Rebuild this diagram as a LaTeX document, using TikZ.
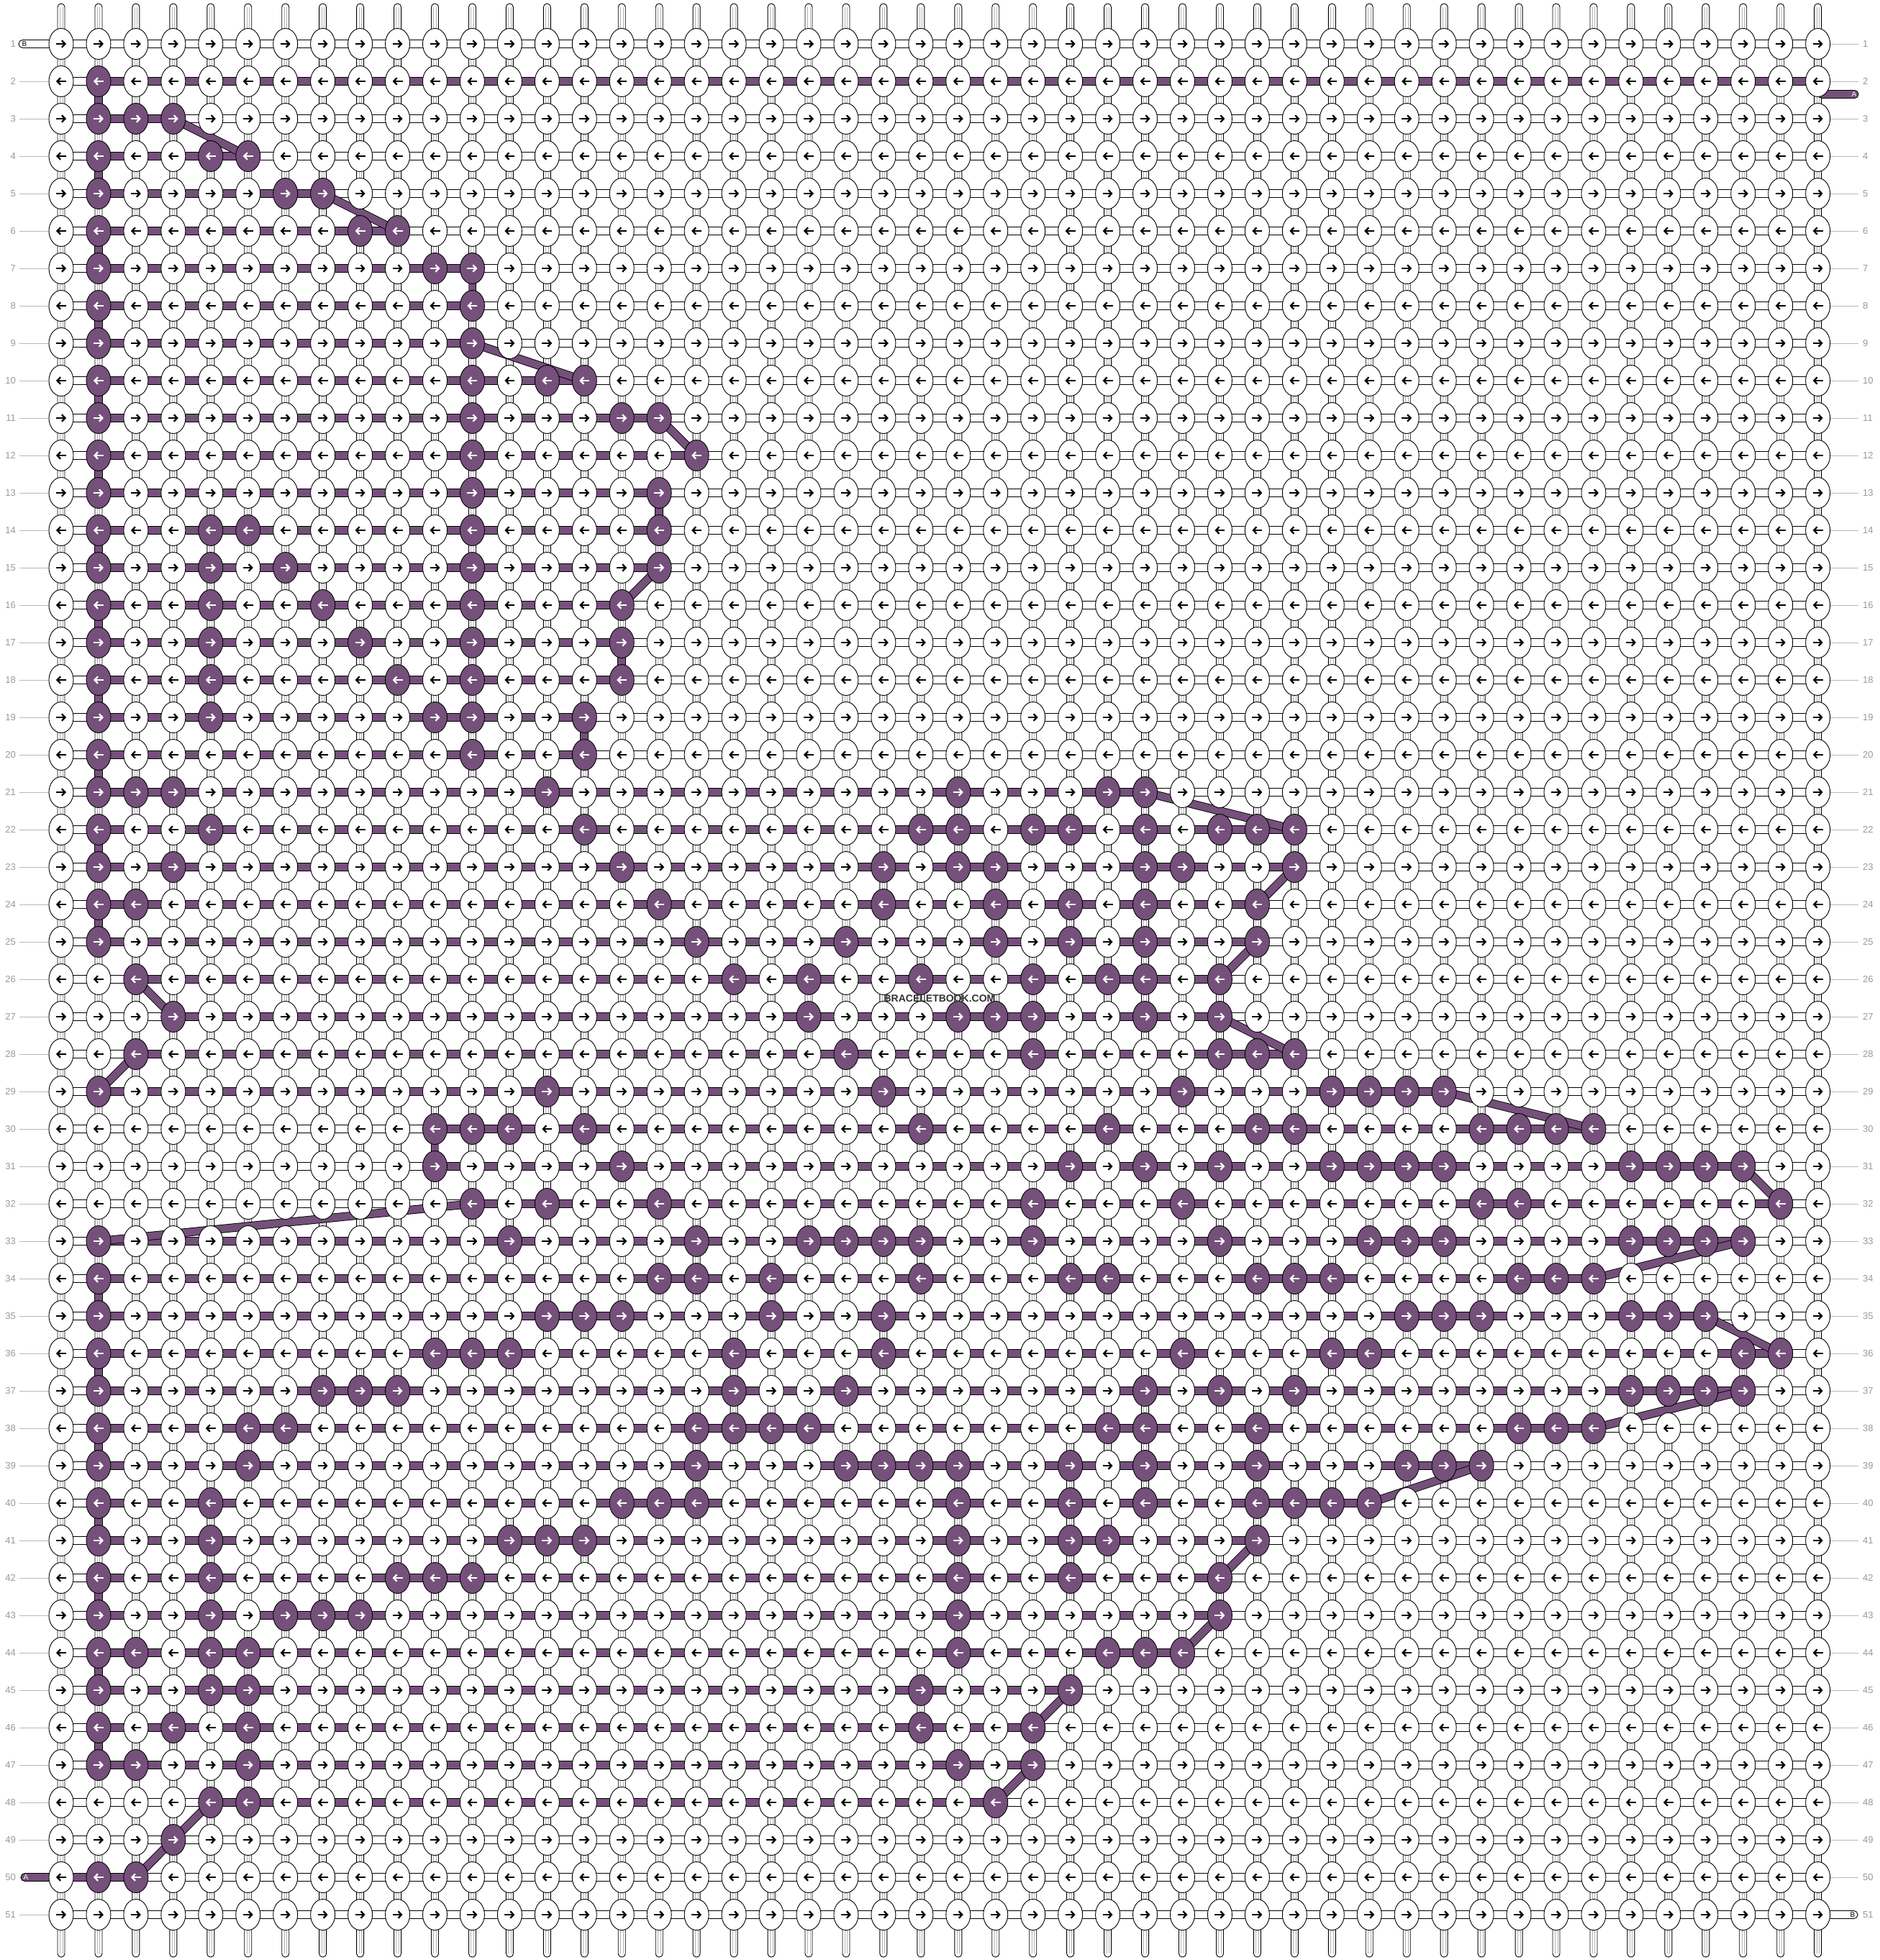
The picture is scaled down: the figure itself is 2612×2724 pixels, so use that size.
\documentclass[tikz,border=0pt]{standalone}
\usepackage{fontspec}
\setmainfont{Liberation Sans}
\usetikzlibrary{arrows.meta}
\definecolor{plum}{HTML}{75507B}
\definecolor{lblgray}{HTML}{9A9A9A}
\definecolor{markgray}{HTML}{333333}
\pgfdeclarelayer{threads}
\pgfsetlayers{threads,main}
\newsavebox\kwr
\newsavebox\kwl
\newsavebox\kpr
\newsavebox\kpl
\newcommand\makeknot[5]{%
    \sbox#1{\begin{pgfpicture}%
        \pgfpathrectangle{\pgfpoint{-25.975pt}{-21.5pt}}{\pgfpoint{51.95pt}{43pt}}%
        \pgfusepath{use as bounding box}%
        \pgfsetlinewidth{0.9pt}%
        \pgfsetfillcolor{#2}\pgfsetstrokecolor{black}%
        \pgfpathellipse{\pgfpointorigin}{\pgfpoint{17pt}{0pt}}{\pgfpoint{0pt}{21.5pt}}%
        \pgfusepath{fill,stroke}%
        \pgfsetstrokecolor{#3}%
        \pgfsetlinewidth{2.3pt}%
        \pgfsetarrowsend{Straight Barb[length=4.5pt,width=9.5pt]}%
        \pgfpathmoveto{\pgfpoint{#4}{0pt}}\pgfpathlineto{\pgfpoint{#5}{0pt}}%
        \pgfusepath{stroke}%
    \end{pgfpicture}}}
\makeknot\kwr{white}{black}{-7pt}{7pt}
\makeknot\kwl{white}{black}{7pt}{-7pt}
\makeknot\kpr{plum}{white}{-7pt}{7pt}
\makeknot\kpl{plum}{white}{7pt}{-7pt}
\begin{document}
\begin{tikzpicture}[
        x=1pt, y=-1pt,
        knotrow/.style={inner sep=0pt, outer sep=0pt, anchor=west},
        strand/.style={draw=black, fill=white, line width=0.9pt, rounded corners=4.9pt},
        fibre/.style={draw=black!30, line width=0.6pt},
        segw/.style={draw=black, fill=white, line width=0.9pt},
        segp/.style={draw=black, fill=plum, line width=0.9pt},
        link/.style={draw=black, line width=0.9pt, double=plum, double distance=10pt},
        rowlbl/.style={text=lblgray, font=\fontsize{13}{13}\selectfont, inner sep=0pt},
        rowline/.style={draw=lblgray!70, line width=0.9pt},
        tag/.style={font=\fontsize{10}{10}\selectfont, inner sep=0pt},
    ]
    \useasboundingbox (0,0) rectangle (2612,2724);

    \foreach \r/\cs in {2/{2}, 3/{2,3,4}, 4/{2,5,6}, 5/{2,7,8}, 6/{2,9,10}, 7/{2,11,12},
        8/{2,12}, 9/{2,12}, 10/{2,12,14,15}, 11/{2,12,16,17}, 12/{2,12,18}, 13/{2,12,17},
        14/{2,5,6,12,17}, 15/{2,5,7,12,17}, 16/{2,5,8,12,16}, 17/{2,5,9,12,16},
        18/{2,5,10,12,16}, 19/{2,5,11,12,15}, 20/{2,12,15},
        21/{2,3,4,14,25,29,30}, 22/{2,5,15,24,25,27,28,30,32,33,34},
        23/{2,4,16,23,25,26,30,31,34}, 24/{2,3,17,23,26,28,30,33},
        25/{2,18,22,26,28,30,33}, 26/{3,19,21,24,27,29,30,32},
        27/{4,21,25,26,27,30,32}, 28/{3,22,27,32,33,34},
        29/{2,14,23,31,35,36,37,38}, 30/{11,12,13,15,24,29,33,34,39,40,41,42},
        31/{11,16,28,30,32,35,36,37,38,43,44,45,46}, 32/{12,14,17,27,31,39,40,47},
        33/{2,13,18,21,22,23,24,27,32,36,37,38,43,44,45,46},
        34/{2,17,18,20,24,28,29,33,34,35,40,41,42},
        35/{2,14,15,16,20,23,37,38,39,43,44,45},
        36/{2,11,12,13,19,23,31,35,36,46,47},
        37/{2,8,9,10,19,22,30,32,34,43,44,45,46},
        38/{2,6,7,18,19,20,21,29,30,33,40,41,42},
        39/{2,6,18,22,23,24,25,28,30,33,37,38,39},
        40/{2,5,16,17,18,25,28,30,33,34,35,36},
        41/{2,5,13,14,15,25,28,29,33}, 42/{2,5,10,11,12,25,28,32},
        43/{2,5,7,8,9,25,32}, 44/{2,3,5,6,25,29,30,31}, 45/{2,5,6,24,28},
        46/{2,4,6,24,27}, 47/{2,3,6,25,27}, 48/{5,6,26}, 49/{4}, 50/{2,3}}{
        \foreach \c in \cs {\expandafter\gdef\csname pk-\r-\c\endcsname{}}
    }

    \foreach \r in {1,...,51}{
        \ifodd\r \let\kw\kwr \let\kp\kpr \else \let\kw\kwl \let\kp\kpl \fi
        \node[knotrow] (row\r) at (59.025, {61+52*(\r-1)}) {\foreach \c in {1,...,48}{\ifcsname pk-\r-\c\endcsname\usebox\kp\else\usebox\kw\fi}};
        \node[rowlbl, anchor=east] (ll\r) at (22, {61+52*(\r-1)}) {\r};
        \node[rowlbl, anchor=west] (rl\r) at (2589, {61+52*(\r-1)}) {\r};
    }

    \node[font=\bfseries\fontsize{14}{14}\selectfont, text=markgray, inner sep=0pt] (mark) at (1306,1388) {BRACELETBOOK.COM};

    \begin{pgfonlayer}{threads}
        \fill[white] (0,0) rectangle (2612,2724);
        \foreach \c in {1,...,48}{
            \pgfmathsetmacro\xx{85+51.95*(\c-1)}
            \draw[strand] (\xx-5,5) rectangle (\xx+5,2720);
            \draw[fibre] (\xx-1.8,10) -- (\xx-1.8,2715) (\xx+1.8,10) -- (\xx+1.8,2715);
        }
        \foreach \r in {1,...,51}{
            \pgfmathsetmacro\yy{61+52*(\r-1)}
            \draw[rowline] (27,\yy) -- (85,\yy);
            \draw[rowline] (2527,\yy) -- (2583,\yy);
            \draw[segw] (85,\yy-5.5) rectangle (2526.65,\yy+5.5);
        }
        \foreach \r/\lo/\hi in {2/2/48, 3/2/4, 4/2/6, 5/2/8, 6/2/10, 7/2/12, 8/2/12, 9/2/12,
            10/2/15, 11/2/17, 12/2/18, 13/2/17, 14/2/17, 15/2/17, 16/2/16, 17/2/16, 18/2/16,
            19/2/15, 20/2/15, 21/2/30, 22/2/34, 23/2/34, 24/2/33, 25/2/33, 26/3/32, 27/4/32,
            28/3/34, 29/2/38, 30/11/42, 31/11/46, 32/12/47, 33/2/46, 34/2/42, 35/2/45,
            36/2/47, 37/2/46, 38/2/42, 39/2/39, 40/2/36, 41/2/33, 42/2/32, 43/2/32,
            44/2/31, 45/2/28, 46/2/27, 47/2/27, 48/5/26, 50/1/3}
            \draw[segp] ({85+51.95*(\lo-1)}, {61+52*(\r-1)-5.5}) rectangle ({85+51.95*(\hi-1)}, {61+52*(\r-1)+5.5});

        \draw[segw, rounded corners=5.4pt] (26,55.5) rectangle (85,66.5);
        \node[tag] (tagB1) at (34,61) {B};
        \draw[segp, rounded corners=5.4pt] (2527,125.5) rectangle (2583,136.5);
        \node[tag, text=white] (tagA2) at (2577,131) {A};
        \draw[segp, rounded corners=5.4pt] (29,2603.5) rectangle (85,2614.5);
        \node[tag, text=white] (tagA50) at (36,2609) {A};
        \draw[segw, rounded corners=5.4pt] (2527,2655.5) rectangle (2582,2666.5);
        \node[tag] (tagB51) at (2575,2661) {B};

        \foreach \ra/\ca/\rb/\cb in {2/2/3/2, 4/2/5/2, 6/2/7/2, 8/2/9/2, 10/2/11/2, 12/2/13/2,
            14/2/15/2, 16/2/17/2, 18/2/19/2, 20/2/21/2, 22/2/23/2, 24/2/25/2, 34/2/35/2,
            36/2/37/2, 38/2/39/2, 40/2/41/2, 42/2/43/2, 44/2/45/2, 46/2/47/2,
            3/4/4/6, 5/8/6/10, 7/12/8/12, 9/12/10/15, 11/17/12/18, 13/17/14/17, 15/17/16/16,
            17/16/18/16, 19/15/20/15, 21/30/22/34, 23/34/24/33, 25/33/26/32, 26/3/27/4,
            27/32/28/34, 28/3/29/2, 29/38/30/42, 30/11/31/11, 31/46/32/47, 32/12/33/2,
            33/46/34/42, 35/45/36/47, 37/46/38/42, 39/39/40/36, 41/33/42/32, 43/32/44/31,
            45/28/46/27, 47/27/48/26, 48/5/49/4, 49/4/50/3}{
            \coordinate (k\ra-\ca) at ({85+51.95*(\ca-1)}, {61+52*(\ra-1)});
            \coordinate (k\rb-\cb) at ({85+51.95*(\cb-1)}, {61+52*(\rb-1)});
            \draw[link] (k\ra-\ca) -- (k\rb-\cb);
        }
    \end{pgfonlayer}
\end{tikzpicture}
\end{document}
